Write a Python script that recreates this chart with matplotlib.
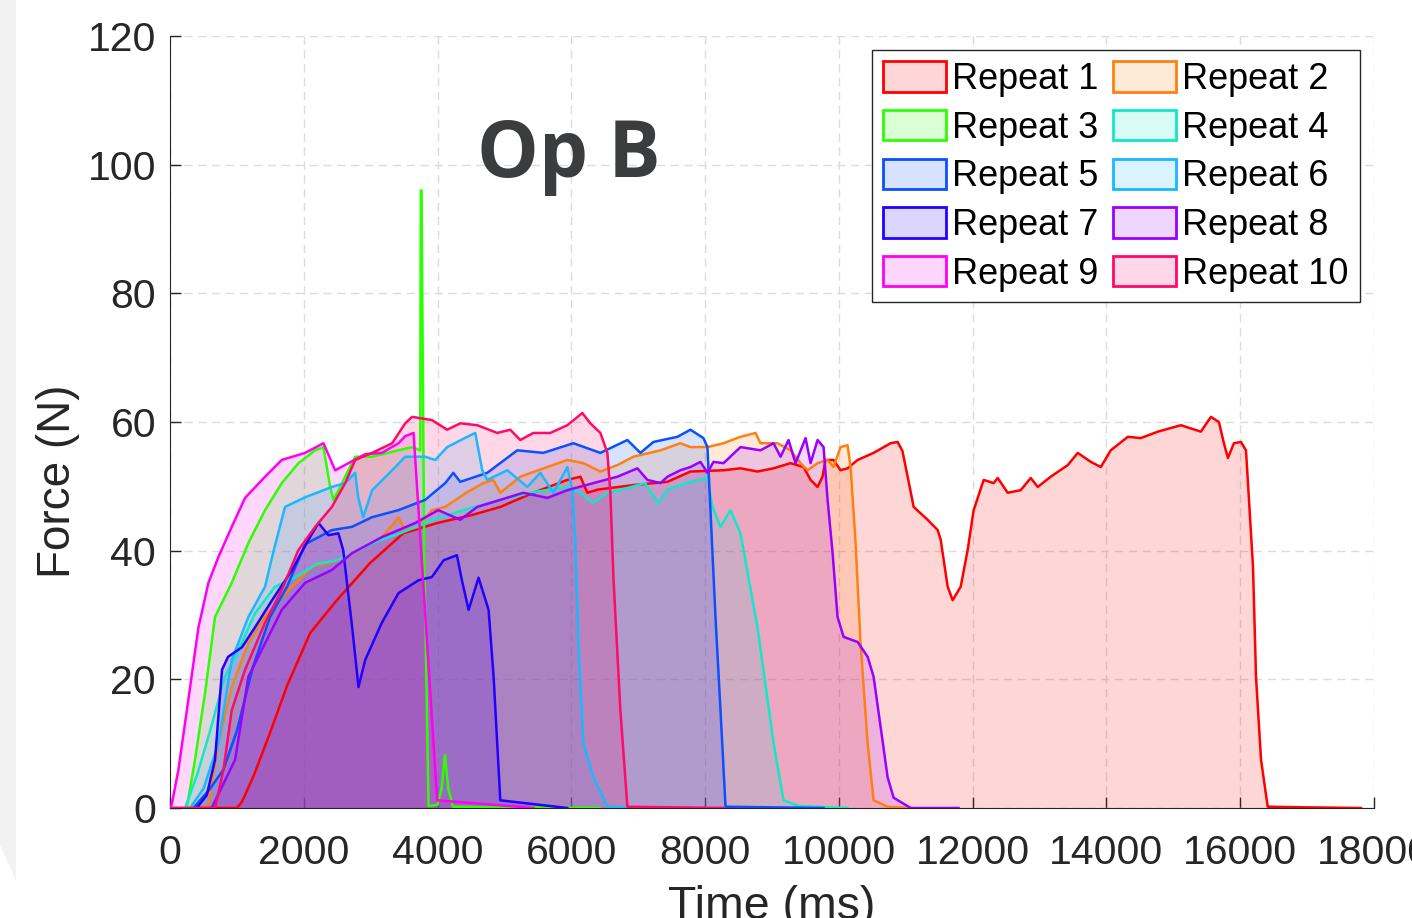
import matplotlib.pyplot as plt
from matplotlib.colors import to_rgb
from matplotlib.patches import Patch, Polygon

# force traces (time in ms, force in N)
t1 = [0, 1000, 1077, 1250, 1496, 1750, 2095, 2494, 2993, 3487, 3995, 4500, 4938, 5432, 5940, 6135, 6240, 6400,
      6928, 7437, 7781, 8275, 8529, 8783, 9023, 9277, 9472, 9577, 9681, 9756, 9800, 9920, 10025, 10130, 10280,
      10519, 10773, 10878, 10950, 11028, 11118, 11327, 11477, 11522, 11626, 11701, 11821, 11925, 12015, 12165,
      12314, 12374, 12524, 12718, 12868, 12973, 13167, 13422, 13571, 13766, 13916, 14065, 14320, 14514, 14769,
      15113, 15412, 15562, 15681, 15756, 15816, 15906, 16011, 16086, 16131, 16191, 16236, 16311, 16411, 17000, 17806]
f1 = [0, 0, 1, 5, 11.7, 19, 27.2, 32.3, 38.1, 42.7, 44.3, 45.5, 46.8, 49, 51, 51.5, 49, 49.5,
      50.2, 50.7, 52.3, 52.5, 52.8, 52.3, 52.8, 53.6, 53, 51, 49.9, 51.5, 54.1, 54.1, 52.5, 52.8, 54.1,
      55.2, 56.7, 56.9, 55.5, 51.5, 46.8, 44.8, 43.2, 41.7, 34.4, 32.3, 34.4, 40.1, 46.3, 51,
      50.5, 51.3, 49, 49.4, 51.3, 49.9, 51.5, 53.3, 55.2, 53.8, 53, 55.6, 57.7, 57.5, 58.5,
      59.5, 58.5, 60.8, 60, 56.7, 54.4, 56.7, 56.9, 55.6, 47.9, 37.5, 20.4, 7.5, 0.2, 0.1, 0]

t2 = [450, 574, 723, 923, 1172, 1421, 1671, 1920, 2119, 2519, 2918, 3167, 3416, 3516, 3715, 3915, 4115, 4444,
      4683, 4833, 4938, 5237, 5641, 5940, 6180, 6434, 6689, 6928, 7332, 7631, 7781, 8035, 8275, 8529, 8753,
      8828, 9083, 9277, 9427, 9531, 9681, 9831, 9920, 10025, 10130, 10175, 10250, 10324, 10429, 10519, 10728, 11070]
f2 = [0, 0.5, 10.1, 18.8, 25.6, 29.7, 32.8, 35.4, 37.5, 38.5, 40.6, 42.1, 45.1, 43.2, 43.7, 46.3, 46.8, 49.1,
      50.5, 51, 49, 51.5, 53, 54.1, 53.6, 52.3, 53.3, 54.6, 55.6, 56.7, 56.1, 56.1, 56.7, 57.7, 58.3,
      56.7, 56.7, 55.6, 53.6, 52.5, 53.6, 54.1, 53, 56.1, 56.4, 53, 41.2, 25.6, 10.1, 1.2, 0.2, 0]

t3 = [250, 374, 524, 673, 923, 1172, 1421, 1671, 1920, 2170, 2294, 2394, 2443, 2519, 2619, 2768, 3022, 3416,
      3621, 3740, 3750, 3760, 3800, 3865, 4000, 4060, 4110, 4160, 4230, 6430]
f3 = [0, 7.5, 17.9, 29.7, 35, 41.2, 46.3, 50.5, 53.6, 55.6, 56.1, 49.9, 47.9, 49.4, 51.5, 54.6, 54.6, 55.6,
      56.1, 55.6, 96, 96, 40, 0.3, 0.5, 3, 8.2, 3, 0.2, 0]

t4 = [225, 400, 600, 820, 1000, 1272, 1571, 1900, 2200, 2500, 2800, 3100, 3441, 3935, 4384, 4938, 5432, 5940,
      6135, 6330, 6539, 6750, 6928, 7100, 7300, 7437, 7781, 8035, 8110, 8230, 8380, 8529, 8783, 9023, 9173,
      9400, 10130]
f4 = [0, 5, 12, 20.4, 24, 30.3, 34.4, 36, 38, 38.5, 40, 41.5, 42.7, 44.8, 46.3, 47.9, 49.1, 49.9,
      49, 47.4, 49, 49.5, 50, 50.5, 47.4, 49.5, 50.7, 51.3, 46.8, 43.7, 46.3, 42.7, 28.1, 10.1, 1.2,
      0.3, 0]

t5 = [350, 600, 800, 1000, 1242, 1496, 1750, 2020, 2420, 2720, 3020, 3416, 3815, 4115, 4235, 4339, 4743, 5192,
      5581, 6030, 6434, 6838, 7033, 7227, 7586, 7781, 7975, 8035, 8080, 8155, 8230, 8305, 9770]
f5 = [0, 3, 6, 12, 22, 29.7, 34.4, 41, 43.2, 43.7, 45.2, 46.3, 47.9, 50.5, 52.1, 50.7, 52.1, 55.6,
      55.2, 56.7, 55.2, 57.2, 55.2, 56.9, 57.7, 58.8, 57.5, 56.1, 46.3, 29.7, 15.2, 0.2, 0]

t6 = [300, 500, 723, 923, 1172, 1421, 1550, 1720, 2020, 2420, 2619, 2768, 2813, 2888, 3022, 3322, 3516, 3815,
      3965, 4144, 4444, 4564, 4668, 4743, 5043, 5342, 5536, 5731, 5940, 6015, 6060, 6105, 6180, 6330, 6539, 7000]
f6 = [0, 3, 10, 23, 29.7, 34.4, 40, 46.8, 48.3, 49.9, 50.5, 52.1, 48.3, 45.2, 49.4, 52.5, 54.6, 54.6,
      54.1, 56.1, 57.7, 58.3, 52.5, 51, 52.5, 49.9, 52.1, 49, 53, 49.4, 41.2, 25.6, 10.1, 4.8, 0.2, 0]

t7 = [400, 550, 673, 778, 868, 1077, 1272, 1526, 1825, 2070, 2220, 2369, 2518, 2589, 2723, 2818, 2918, 3167,
      3416, 3715, 3915, 4090, 4289, 4364, 4464, 4613, 4763, 4838, 4938, 5940]
f7 = [0, 2, 7.5, 21.5, 23.5, 25, 28.1, 32.3, 37, 41.7, 44.3, 42.4, 42.7, 40.1, 28.1, 18.8, 23, 28.8,
      33.4, 35.4, 35.9, 38.5, 39.3, 35.4, 30.8, 35.8, 30.8, 20.4, 1.2, 0]

t8 = [450, 623, 973, 1172, 1421, 1671, 2020, 2420, 2720, 3167, 3666, 4010, 4339, 4594, 4938, 5282, 5641, 5940,
      6330, 6689, 6988, 7137, 7332, 7437, 7631, 7781, 7930, 8035, 8125, 8275, 8529, 8828, 9023, 9128, 9247,
      9352, 9502, 9577, 9681, 9771, 9831, 9906, 9980, 10070, 10280, 10430, 10519, 10624, 10728, 10818, 11073, 11790]
f8 = [0, 0, 7.5, 20.4, 25.6, 30.8, 35, 37, 39.6, 42.1, 44.3, 46.3, 44.8, 46.8, 47.9, 49, 48.2, 49.4,
      50.5, 51.5, 52.8, 51, 50.5, 51.5, 52.5, 53, 53.8, 52.1, 53.8, 53.6, 56.1, 55.6, 56.7, 54.6, 57.2,
      53.6, 57.5, 53.6, 57.2, 56.1, 47.9, 39.6, 29.7, 26.6, 25.8, 23.5, 20.4, 12.6, 4.8, 1.6, 0, 0]

t9 = [0, 25, 125, 274, 424, 574, 723, 923, 1122, 1421, 1671, 2020, 2294, 2469, 2668, 2918, 3167, 3416,
      3516, 3641, 3995, 5432]
f9 = [0, 0.5, 5.9, 16.8, 28, 35, 39, 43.7, 48.2, 51.5, 54.1, 55.2, 56.7, 52.5, 53.6, 55, 55.2, 56.7,
      57.8, 58.3, 1.2, 0]

t10 = [0, 673, 800, 923, 1122, 1421, 1671, 1920, 2170, 2420, 2619, 2768, 3022, 3322, 3516, 3621, 3915, 4144,
       4339, 4594, 4893, 5087, 5237, 5432, 5686, 5940, 6165, 6284, 6434, 6539, 6584, 6629, 6733, 6838, 8275]
f10 = [0, 0, 6, 15.2, 21.5, 28.8, 33.9, 40.1, 43.7, 46.8, 50.5, 54.1, 55.2, 56.7, 59.8, 60.8, 60.3, 58.8,
       59.8, 59.5, 58.3, 58.8, 57.2, 58.3, 58.3, 59.5, 61.4, 59.8, 58.3, 55.2, 49, 35.9, 15.2, 0.2, 0]

times = [t1, t2, t3, t4, t5, t6, t7, t8, t9, t10]
forces = [f1, f2, f3, f4, f5, f6, f7, f8, f9, f10]
labels = ['Repeat %d' % i for i in range(1, 11)]
colors = ['#ff0000', '#ff8010', '#2bff00', '#10e8c8', '#0a50ff',
          '#1ab8ff', '#2200ff', '#9a00ff', '#ff00f0', '#ff0a68']
xticks = list(range(0, 18001, 2000))
yticks = list(range(0, 121, 20))

plt.rcParams['font.family'] = ['Liberation Sans', 'DejaVu Sans']
fig = plt.figure(figsize=(14.12, 9.18), dpi=100)

# light grey strip on the left edge of the screenshot
fig.patches.append(Polygon([[0, 1], [16 / 1412, 1], [16 / 1412, 1 - 880 / 918], [0, 1 - 845 / 918]],
                           closed=True, transform=fig.transFigure, facecolor='#f2f2f2', edgecolor='none'))

ax = fig.add_axes([170 / 1412, 1 - 808 / 918, 1204 / 1412, 772 / 918])
a = 0.16
handles = []
for t, f, c, lab in zip(times, forces, colors, labels):
    ax.fill_between(t, f, 0, facecolor=(*to_rgb(c), a), edgecolor='none', zorder=2)
    ax.plot(t, f, color=c, lw=1.8, zorder=3)
    handles.append(Patch(facecolor=(*to_rgb(c), a), edgecolor=c, lw=2, label=lab))

ax.set_xlim(0, 18000)
ax.set_ylim(0, 120)
ax.set_xticks(xticks)
ax.set_yticks(yticks)
ax.tick_params(direction='in', length=8, width=1, labelsize=29.5, colors='#262626')
ax.tick_params(axis='x', pad=19)
ax.tick_params(axis='y', pad=10)
ax.grid(True, ls=(0, (6, 4)), color='#dcdcdc', lw=1)
ax.set_axisbelow(True)
for s in ['top', 'right']:
    ax.spines[s].set_visible(False)
for s in ['left', 'bottom']:
    ax.spines[s].set_color('#262626')
ax.set_xlabel('Time (ms)', fontsize=33.5, color='#262626')
ax.set_ylabel('Force (N)', fontsize=33, color='#262626')
ax.xaxis.set_label_coords(0.5, -(885 - 808) / 772)
ax.yaxis.set_label_coords((80 - 170) / 1204, (808 - 481) / 772)

ax.text(5963, 98.1, 'Op B', fontsize=56, fontweight='bold', family='Open Sans',
        color='#3b3c3e', ha='center', va='baseline', zorder=5)

# legend is filled row by row in the reference
order = [0, 2, 4, 6, 8, 1, 3, 5, 7, 9]
leg = ax.legend(handles=[handles[i] for i in order], ncol=2, loc='upper right', fontsize=26, frameon=True,
                fancybox=False, framealpha=1, edgecolor='#262626', handlelength=1.75, handleheight=0.92,
                handletextpad=0.17, columnspacing=0.4, labelspacing=0.36, borderpad=0.3, borderaxespad=0.4)
leg.get_frame().set_linewidth(1)

fig.savefig('out.png', dpi=100)
